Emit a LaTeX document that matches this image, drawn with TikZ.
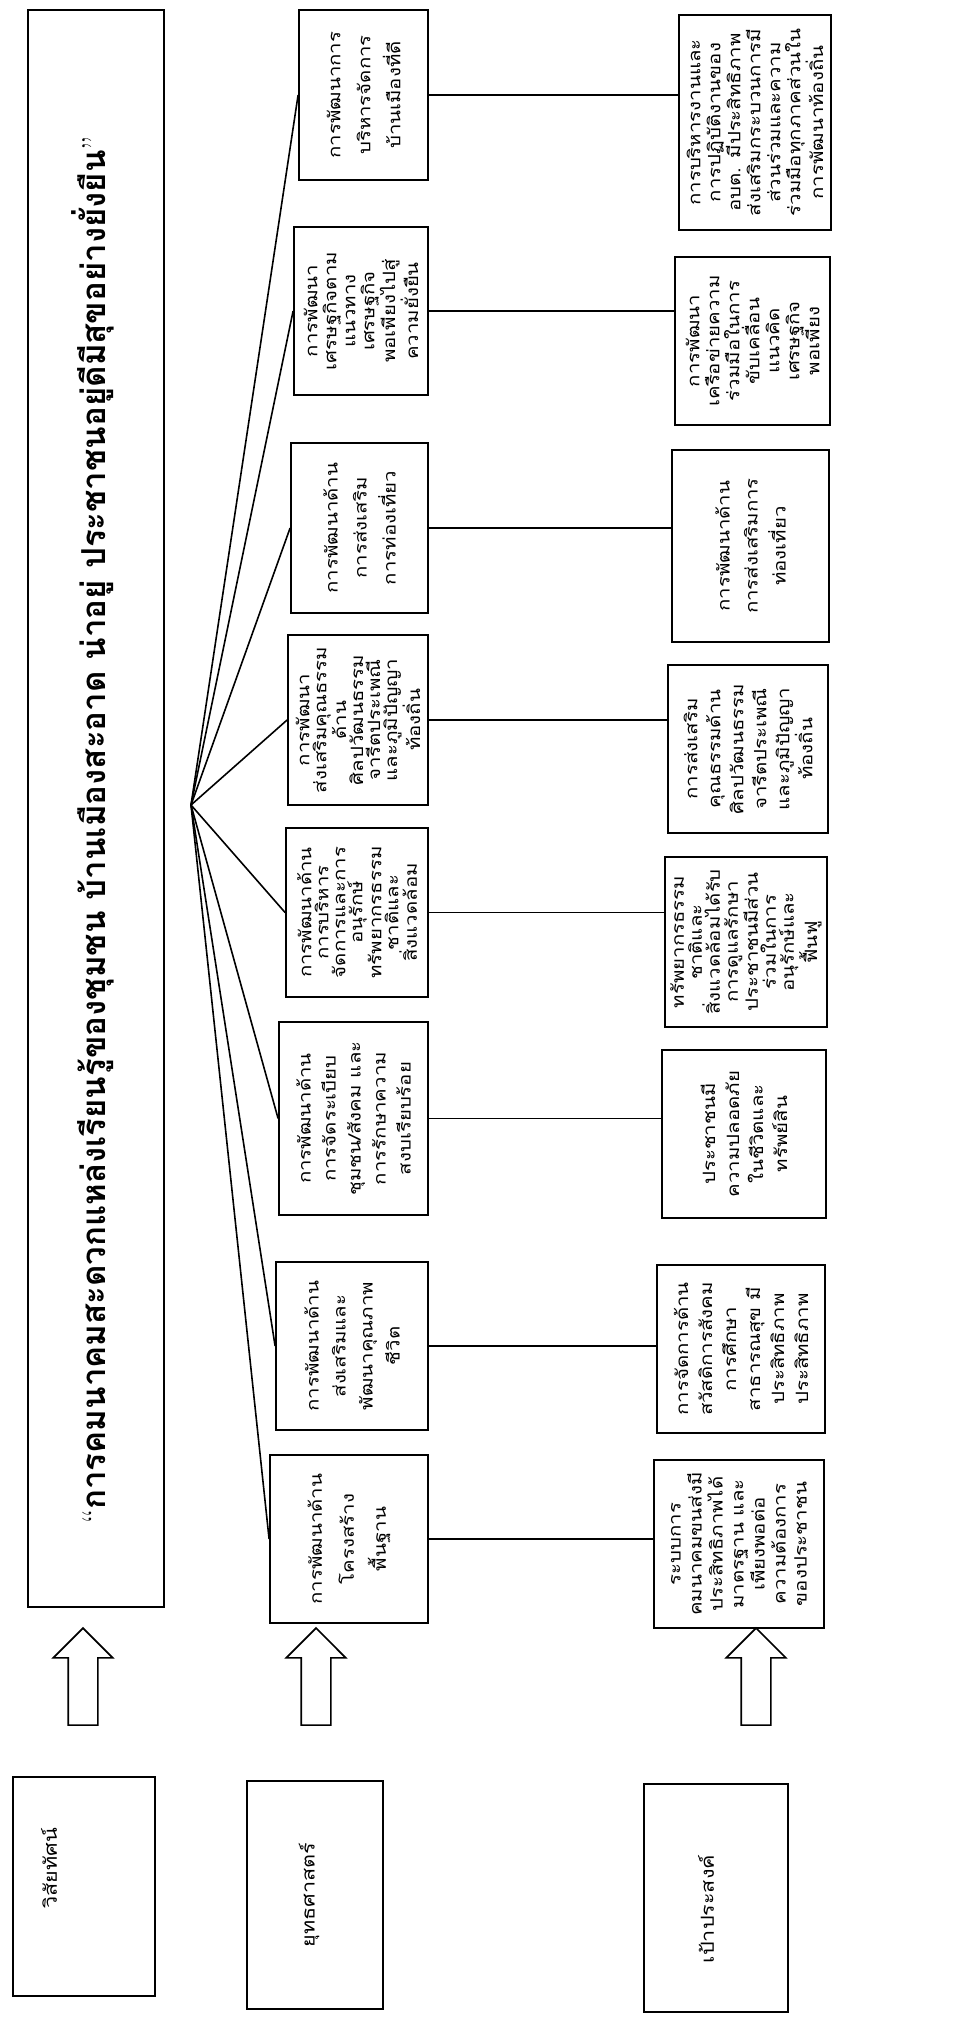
\documentclass[tikz,border=0pt]{standalone}
\usepackage{fontspec}
\newfontfamily\thai[Script=Thai]{Loma}
\newfontfamily\thaiw[Script=Thai,FakeStretch=1.2]{Loma}
\usetikzlibrary{shapes.arrows}

\tikzset{
  box/.style={draw, line width=1.8pt, rotate=90, align=center, inner sep=2pt,
    font=\thaiw\fontsize{17}{20}\selectfont},
  ls/.style={font=\thaiw\fontsize{17}{#1}\selectfont},
  upblock/.style={draw, line width=1.6pt, single arrow, rotate=90, inner xsep=0pt,
    inner ysep=14pt, minimum height=97pt, single arrow head extend=15pt,
    single arrow tip angle=90},
  link/.style={line width=1.6pt},
  lbl/.style={rotate=90, font=\thaiw\fontsize{18}{22}\selectfont}
}

\begin{document}
\begin{tikzpicture}[x=1pt,y=-1pt]
\useasboundingbox (0,0) rectangle (971,2019);
            % Title
\node[draw, line width=1.8pt, rotate=90, minimum width=1597pt, minimum height=136pt] (title) at (96,808.5) {};
\node[rotate=90, font=\thai\bfseries\fontsize{33}{36}\selectfont] (titletext) at (93,830)
  {{\normalfont “}การคมนาคมสะดวกแหล่งเรียนรู้ของชุมชน บ้านเมืองสะอาด น่าอยู่ ประชาชนอยู่ดีมีสุขอย่างยั่งยืน{\normalfont ”}};
\coordinate (fan) at (191,805);
            % Strategies
\node[box, ls=30, minimum width=170pt, minimum height=129pt] (sA) at (363.5,95) {การพัฒนาการ\\บริหารจัดการ\\บ้านเมืองที่ดี};
\node[box, ls=19, minimum width=168pt, minimum height=134pt] (sB) at (361,311) {การพัฒนา\\เศรษฐกิจตาม\\แนวทาง\\เศรษฐกิจ\\พอเพียงไปสู่\\ความยั่งยืน};
\node[box, ls=29, minimum width=170pt, minimum height=137pt] (sC) at (359.5,528) {การพัฒนาด้าน\\การส่งเสริม\\การท่องเที่ยว};
\node[box, ls=17, minimum width=170pt, minimum height=140pt] (sD) at (358,720) {การพัฒนา\\ส่งเสริมคุณธรรม\\ด้าน\\ศิลปวัฒนธรรม\\จารีตประเพณี\\และภูมิปัญญา\\ท้องถิ่น};
\node[box, ls=17, minimum width=169pt, minimum height=142pt] (sE) at (357,912.5) {การพัฒนาด้าน\\การบริหาร\\จัดการและการ\\อนุรักษ์\\ทรัพยากรธรรม\\ชาติและ\\สิ่งแวดล้อม};
\node[box, ls=25, minimum width=193pt, minimum height=149pt] (sF) at (353.5,1118.5) {การพัฒนาด้าน\\การจัดระเบียบ\\ชุมชน/สังคม และ\\การรักษาความ\\สงบเรียบร้อย};
\node[box, ls=27, minimum width=168pt, minimum height=152pt] (sG) at (352,1346) {การพัฒนาด้าน\\ส่งเสริมและ\\พัฒนาคุณภาพ\\ชีวิต};
\node[box, ls=32, minimum width=168pt, minimum height=158pt] (sH) at (349,1539) {การพัฒนาด้าน\\โครงสร้าง\\พื้นฐาน};
            % Goals
\node[box, ls=20, minimum width=215pt, minimum height=152pt] (gA) at (755,122.5) {การบริหารงานและ\\การปฏิบัติงานของ\\อบต. มีประสิทธิภาพ\\ส่งเสริมกระบวนการมี\\ส่วนร่วมและความ\\ร่วมมือทุกภาคส่วนใน\\การพัฒนาท้องถิ่น};
\node[box, ls=20, minimum width=168pt, minimum height=155pt] (gB) at (752.5,341) {การพัฒนา\\เครือข่ายความ\\ร่วมมือในการ\\ขับเคลื่อน\\แนวคิด\\เศรษฐกิจ\\พอเพียง};
\node[box, ls=28, minimum width=192pt, minimum height=157pt] (gC) at (750.5,546) {การพัฒนาด้าน\\การส่งเสริมการ\\ท่องเที่ยว};
\node[box, ls=23, minimum width=168pt, minimum height=160pt] (gD) at (748,749) {การส่งเสริม\\คุณธรรมด้าน\\ศิลปวัฒนธรรม\\จารีตประเพณี\\และภูมิปัญญา\\ท้องถิ่น};
\node[box, ls=18, minimum width=170pt, minimum height=162pt] (gE) at (746,942) {ทรัพยากรธรรม\\ชาติและ\\สิ่งแวดล้อมได้รับ\\การดูแลรักษา\\ประชาชนมีส่วน\\ร่วมในการ\\อนุรักษ์และ\\ฟื้นฟู};
\node[box, ls=24, minimum width=168pt, minimum height=164pt] (gF) at (744,1134) {ประชาชนมี\\ความปลอดภัย\\ในชีวิตและ\\ทรัพย์สิน};
\node[box, ls=24, minimum width=168pt, minimum height=168pt] (gG) at (741,1349) {การจัดการด้าน\\สวัสดิการสังคม\\การศึกษา\\สาธารณสุข มี\\ประสิทธิภาพ\\ประสิทธิภาพ};
\node[box, ls=21, minimum width=168pt, minimum height=170pt] (gH) at (739,1544) {ระบบการ\\คมนาคมขนส่งมี\\ประสิทธิภาพได้\\มาตรฐาน และ\\เพียงพอต่อ\\ความต้องการ\\ของประชาชน};
            % Row labels
\node[draw, line width=1.8pt, rotate=90, minimum width=219pt, minimum height=142pt] (vision) at (84,1886.5) {};
\node[lbl] (visiontext) at (49,1868) {วิสัยทัศน์};
\node[draw, line width=1.8pt, rotate=90, minimum width=228pt, minimum height=136pt] (strategy) at (315,1895) {};
\node[lbl] (strategytext) at (309,1895) {ยุทธศาสตร์};
\node[draw, line width=1.8pt, rotate=90, minimum width=228pt, minimum height=144pt] (goal) at (716,1898) {};
\node[lbl] (goaltext) at (706,1909) {เป้าประสงค์};
            % Block arrows
\node[upblock] (up1) at (83,1684) {};
\node[upblock] (up2) at (316,1684) {};
\node[upblock] (up3) at (756,1684) {};
%Fan
\foreach \s in {sA,sB,sC,sD,sE,sF,sG,sH}
  \draw[link] (fan) -- (\s.north);
%Strategy to goal
\foreach \s/\g in {sA/gA,sB/gB,sC/gC,sD/gD,sE/gE,sF/gF,sG/gG,sH/gH}
  \draw[link] (\s.south) -- (\s.south -| \g.north);

\end{tikzpicture}
\end{document}
